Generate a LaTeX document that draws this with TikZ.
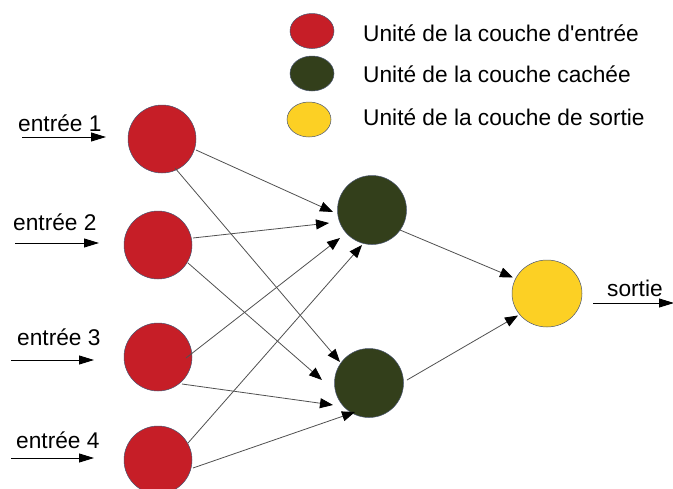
\documentclass[tikz,border=0pt]{standalone}
\usepackage{fontspec}
\setmainfont{Liberation Sans}[Ligatures=TeXOff]
\usetikzlibrary{arrows.meta,calc,shapes.geometric}
\definecolor{inred}{HTML}{C61E27}
\definecolor{hidgreen}{HTML}{333F1B}
\definecolor{outyellow}{HTML}{FCD024}
\definecolor{rim}{HTML}{4A5570}
\definecolor{edgegray}{HTML}{505050}
\begin{document}
\begin{tikzpicture}[x=1pt,y=-1pt,
  unit/.style={circle,draw=rim,line width=0.5pt,minimum size=#1,inner sep=0pt},
  inunit/.style={unit=68pt,fill=inred},
  hidunit/.style={unit=69pt,fill=hidgreen},
  outunit/.style={ellipse,draw=rim,line width=0.5pt,fill=outyellow,minimum width=70pt,minimum height=67pt,inner sep=0pt},
  legdot/.style={ellipse,draw=rim,line width=0.5pt,minimum width=44pt,minimum height=35pt,inner sep=0pt},
  lbl/.style={font=\fontsize{22.7}{27}\selectfont,anchor=base west,inner sep=0pt},
  conn/.style={draw=edgegray,line width=0.8pt,-{Triangle[length=13pt,width=10pt,color=black]}},
  feed/.style={draw=black,line width=0.9pt,-{Triangle[length=15pt,width=9pt]}}
]
\useasboundingbox (0,0) rectangle (673,488);
% legend
\node[legdot,fill=inred] (lr) at (312,31) {};
\node[legdot,fill=hidgreen] (lg) at (312,73.5) {};
\node[legdot,fill=outyellow] (ly) at (309,119.5) {};
\node[lbl] (t1) at (363,41) {Unité de la couche d'entrée};
\node[lbl] (t2) at (363,82) {Unité de la couche cachée};
\node[lbl] (t3) at (363,125) {Unité de la couche de sortie};
% units
\node[inunit] (i1) at (162,139) {};
\node[inunit] (i2) at (158,245) {};
\node[inunit] (i3) at (158,357) {};
\node[inunit] (i4) at (158,460) {};
\node[hidunit] (h1) at (372,210) {};
\node[hidunit] (h2) at (369,383) {};
\node[outunit] (o) at (547,293.5) {};
% input labels and arrows
\node[lbl] (e1) at (18,131) {entrée 1};
\node[lbl] (e2) at (13,230) {entrée 2};
\node[lbl] (e3) at (17,345) {entrée 3};
\node[lbl] (e4) at (16,448) {entrée 4};
\node[lbl] (s) at (607,296) {sortie};
\coordinate (a1) at (22,137);  \coordinate (b1) at (106,137);
\coordinate (a2) at (15,243);  \coordinate (b2) at (99,243);
\coordinate (a3) at (11,360);  \coordinate (b3) at (94,360);
\coordinate (a4) at (11,458);  \coordinate (b4) at (94,458);
\coordinate (so) at (593,303); \coordinate (se) at (674,303);
\draw[feed] (a1) -- (b1);
\draw[feed] (a2) -- (b2);
\draw[feed] (a3) -- (b3);
\draw[feed] (a4) -- (b4);
\draw[feed] (so) -- (se);
% connections
\draw[conn] ($(i1)+(34,11)$) -- ($(h1)+(-39,2)$);
\draw[conn] ($(i2)+(35,-7)$) -- ($(h1)+(-43,13)$);
\draw[conn] ($(i3)+(28,1)$) -- ($(h1)+(-32,28)$);
\draw[conn] ($(i4)+(30,-17)$) -- ($(h1)+(-10,35)$);
\draw[conn] ($(i1)+(13,29)$) -- ($(h2)+(-29,-21)$);
\draw[conn] ($(i2)+(30,18)$) -- ($(h2)+(-47,-3)$);
\draw[conn] ($(i3)+(24,27)$) -- ($(h2)+(-36,22)$);
\draw[conn] ($(i4)+(35,8)$) -- ($(h2)+(-14,29)$);
\draw[conn] ($(h1)+(28,20)$) -- ($(o)+(-34,-16)$);
\draw[conn] ($(h2)+(38,-3)$) -- ($(o)+(-29,22)$);
\end{tikzpicture}
\end{document}
